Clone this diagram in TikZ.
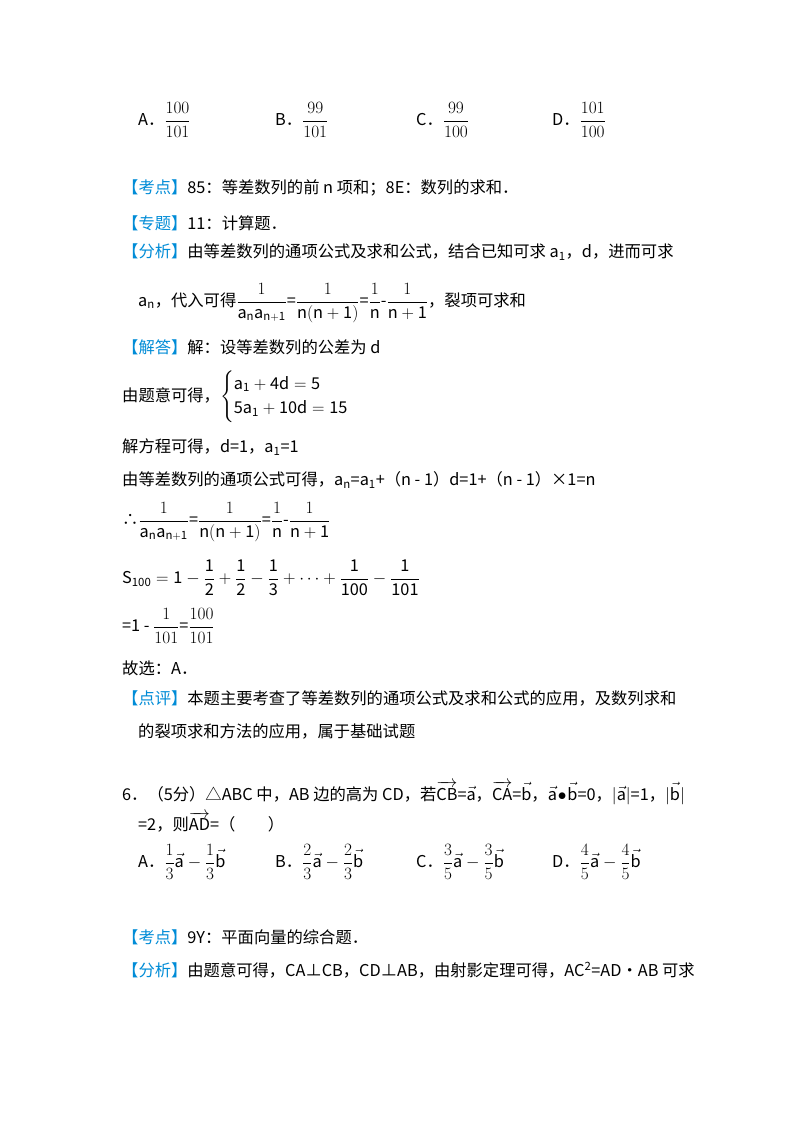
\documentclass[tikz,border=0pt]{standalone}
\usepackage{amsmath}
\usepackage{fontspec}
\setmainfont{Noto Sans CJK SC}
\definecolor{lab}{RGB}{0,140,215}
\newcommand{\lb}[1]{\textcolor{lab}{【#1】}}
\newcommand{\vv}[1]{\overrightarrow{\mathrm{#1}}}
\begin{document}
\begin{tikzpicture}[x=1pt,y=-1pt,
  t/.style={anchor=west,inner sep=0pt,font=\fontsize{16.3}{19}\selectfont}]
\useasboundingbox[fill=white] (0,0) rectangle (800,1133);
\node[t] (oa) at (138,120) {A．$\dfrac{100}{101}$};
\node[t] (ob) at (275,120) {B．$\dfrac{99}{101}$};
\node[t] (oc) at (416,120) {C．$\dfrac{99}{100}$};
\node[t] (od) at (552,120) {D．$\dfrac{101}{100}$};
\node[t] (k1) at (122,188) {\lb{考点}85：等差数列的前 n 项和；8E：数列的求和．};
\node[t] (z1) at (122,223) {\lb{专题}11：计算题．};
\node[t] (f1) at (122,252) {\lb{分析}由等差数列的通项公式及求和公式，结合已知可求 a\textsubscript{1}，d，进而可求};
\node[t] (f2) at (138,303) {a\textsubscript{n}，代入可得$\dfrac{1}{\mathrm{a_n a_{n+1}}}$=$\dfrac{1}{\mathrm{n(n+1)}}$=$\dfrac{1}{\mathrm{n}}$-$\dfrac{1}{\mathrm{n+1}}$，裂项可求和};
\node[t] (j1) at (122,347) {\lb{解答}解：设等差数列的公差为 d};
\node[t] (j2) at (122,397) {由题意可得，$\begin{cases}\mathrm{a_1+4d=5}\\[2pt] \mathrm{5a_1+10d=15}\end{cases}$};
\node[t] (j3) at (122,447) {解方程可得，d=1，a\textsubscript{1}=1};
\node[t] (j4) at (122,480) {由等差数列的通项公式可得，a\textsubscript{n}=a\textsubscript{1}+（n - 1）d=1+（n - 1）×1=n};
\node[t] (j5) at (122,522) {∴$\dfrac{1}{\mathrm{a_n a_{n+1}}}$=$\dfrac{1}{\mathrm{n(n+1)}}$=$\dfrac{1}{\mathrm{n}}$-$\dfrac{1}{\mathrm{n+1}}$};
\node[t] (j6) at (122,578) {$\mathrm{S_{100}=1-\dfrac{1}{2}+\dfrac{1}{2}-\dfrac{1}{3}+\cdots+\dfrac{1}{100}-\dfrac{1}{101}}$};
\node[t] (j7) at (122,626) {=1 - $\dfrac{1}{101}$=$\dfrac{100}{101}$};
\node[t] (j8) at (122,668) {故选：A．};
\node[t] (d1) at (122,698) {\lb{点评}本题主要考查了等差数列的通项公式及求和公式的应用，及数列求和};
\node[t] (d2) at (138,731) {的裂项求和方法的应用，属于基础试题};
\node[t] (q1) at (122,793) {6．（5分）△ABC 中，AB 边的高为 CD，若$\vv{CB}$=$\vec{\mathrm a}$，$\vv{CA}$=$\vec{\mathrm b}$，$\vec{\mathrm a}\!\bullet\!\vec{\mathrm b}$=0，$|\vec{\mathrm a}|$=1，$|\vec{\mathrm b}|$};
\node[t] (q2) at (138,822) {=2，则$\vv{AD}$=（\qquad）};
\node[t] (qa) at (138,862) {A．$\dfrac{1}{3}\vec{\mathrm a}-\dfrac{1}{3}\vec{\mathrm b}$};
\node[t] (qb) at (275,862) {B．$\dfrac{2}{3}\vec{\mathrm a}-\dfrac{2}{3}\vec{\mathrm b}$};
\node[t] (qc) at (416,862) {C．$\dfrac{3}{5}\vec{\mathrm a}-\dfrac{3}{5}\vec{\mathrm b}$};
\node[t] (qd) at (552,862) {D．$\dfrac{4}{5}\vec{\mathrm a}-\dfrac{4}{5}\vec{\mathrm b}$};
\node[t] (k2) at (122,937) {\lb{考点}9Y：平面向量的综合题．};
\node[t] (f3) at (122,970) {\lb{分析}由题意可得，CA⊥CB，CD⊥AB，由射影定理可得，AC\textsuperscript{2}=AD•AB 可求};
\end{tikzpicture}
\end{document}
